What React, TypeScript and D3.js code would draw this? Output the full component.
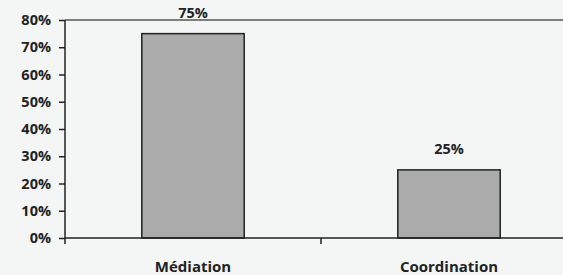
import React, { useEffect, useRef } from "react";
import * as d3 from "d3";

const categories = ["Médiation", "Coordination"];
const values = [0.75, 0.25];
const yTicks = [0, 0.1, 0.2, 0.3, 0.4, 0.5, 0.6, 0.7, 0.8];

const W = 563;
const H = 275;

export default function App() {
  const ref = useRef<SVGSVGElement>(null);
  useEffect(() => {
    const svg = d3.select(ref.current);
    svg.selectAll("*").remove();
    const font = "'Open Sans', 'DejaVu Sans', sans-serif";
    const left = 65, right = 577, top = 20, bottom = 238;
    const x = d3.scaleBand<string>().domain(categories).range([left, right]).paddingInner(0.6).paddingOuter(0.3);
    const y = d3.scaleLinear().domain([0, 0.8]).range([bottom, top]);

    svg.append("rect").attr("width", W).attr("height", H).attr("fill", "#f4f6f6");

    // top border line
    svg.append("line").attr("x1", left).attr("x2", W).attr("y1", y(0.8)).attr("y2", y(0.8))
      .attr("stroke", "#555").attr("stroke-width", 1.5);

    // bars
    svg.selectAll("rect.bar").data(categories).enter().append("rect").attr("class", "bar")
      .attr("x", (d) => x(d)!).attr("width", x.bandwidth())
      .attr("y", (d, i) => y(values[i])).attr("height", (d, i) => y(0) - y(values[i]))
      .attr("fill", "#ababab").attr("stroke", "#222").attr("stroke-width", 1.5);

    // value labels
    svg.selectAll("text.val").data(categories).enter().append("text").attr("class", "val")
      .attr("x", (d) => x(d)! + x.bandwidth() / 2).attr("y", (d, i) => y(values[i]) - 21)
      .attr("text-anchor", "middle").attr("dominant-baseline", "central")
      .attr("font-family", font).attr("font-weight", "bold").attr("font-size", 14.5).attr("fill", "#222")
      .text((d, i) => d3.format(".0%")(values[i]));

    // y axis
    const yAxis = svg.append("g").attr("transform", `translate(${left},0)`)
      .call(d3.axisLeft(y).tickValues(yTicks).tickSize(6).tickPadding(8).tickFormat(d3.format(".0%") as any));
    yAxis.select(".domain").remove();
    yAxis.selectAll(".tick line").attr("stroke", "#222").attr("stroke-width", 1.5);
    yAxis.selectAll(".tick text").attr("font-family", font).attr("font-weight", "bold")
      .attr("font-size", 14.5).attr("fill", "#222");
    svg.append("line").attr("x1", left).attr("x2", left).attr("y1", top).attr("y2", bottom + 6)
      .attr("stroke", "#222").attr("stroke-width", 1.5);

    // x axis baseline
    svg.append("line").attr("x1", left).attr("x2", W).attr("y1", bottom).attr("y2", bottom)
      .attr("stroke", "#222").attr("stroke-width", 1.5);
    // category separator tick
    const sep = x(categories[1])! - (x.step() - x.bandwidth()) / 2;
    svg.append("line").attr("x1", sep).attr("x2", sep).attr("y1", bottom).attr("y2", bottom + 6)
      .attr("stroke", "#222").attr("stroke-width", 1.5);

    // category labels
    svg.selectAll("text.cat").data(categories).enter().append("text").attr("class", "cat")
      .attr("x", (d) => x(d)! + x.bandwidth() / 2).attr("y", 266)
      .attr("text-anchor", "middle").attr("dominant-baseline", "central")
      .attr("font-family", font).attr("font-weight", "bold").attr("font-size", 15).attr("fill", "#222")
      .text((d) => d);
  }, []);
  return (
    <svg ref={ref} width={W} height={H} style={{ position: "absolute", left: 0, top: 0 }} />
  );
}
